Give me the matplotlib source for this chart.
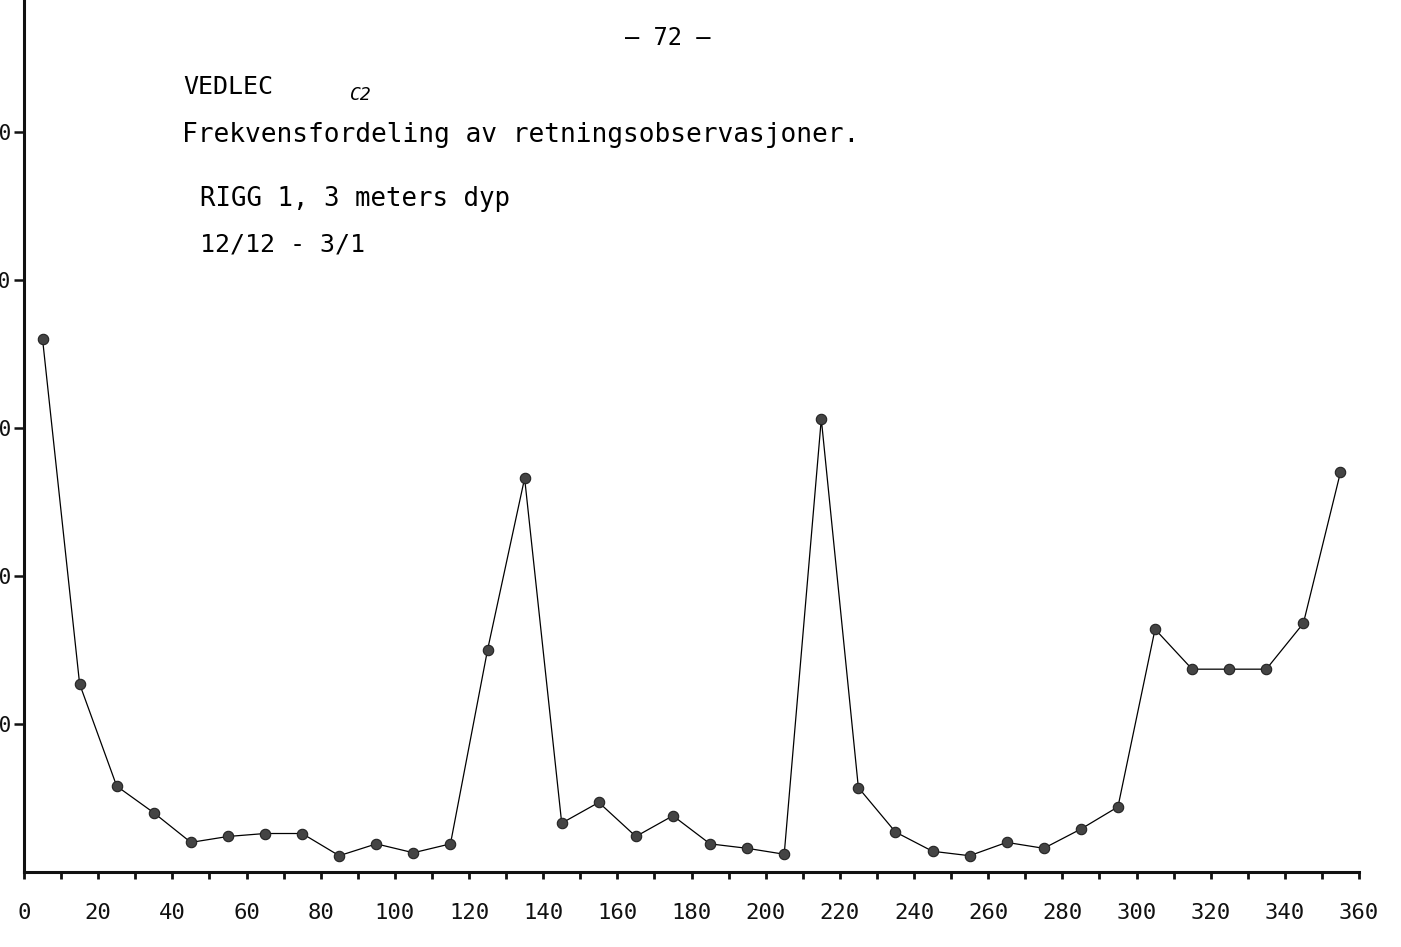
import matplotlib.pyplot as plt

plt.rcParams['font.family'] = ['DejaVu Sans Mono', 'DejaVu Sans']

# retning (grader), midtpunkt i hver 10-graders klasse
retning = list(range(5, 360, 10))
# frekvens lest av figuren
frekvens = [36.0, 12.7, 5.8, 4.0, 2.0, 2.4, 2.6, 2.6, 1.1, 1.9,
            1.3, 1.9, 15.0, 26.6, 3.3, 4.7, 2.4, 3.8, 1.9, 1.6,
            1.2, 30.6, 5.7, 2.7, 1.4, 1.1, 2.0, 1.6, 2.9, 4.4,
            16.4, 13.7, 13.7, 13.7, 16.8, 27.0]

xticks_major = list(range(0, 361, 20))
xticks_minor = list(range(10, 360, 20))
yticks = [10, 20, 30, 40, 50]

fig = plt.figure(figsize=(14.01, 9.47), dpi=100)
ax = fig.add_axes([24 / 1401, 75 / 947, 1335 / 1401, 872 / 947])

ax.plot(retning, frekvens, color='black', lw=0.9,
        marker='o', ms=7.5, mfc='#444444', mec='#222222', mew=0.8)

ax.set_xlim(0, 360)
ax.set_ylim(0, 58.9)
ax.set_xticks(xticks_major)
ax.set_xticks(xticks_minor, minor=True)
ax.set_yticks(yticks)
ax.set_yticklabels([str(v) for v in yticks])

for side in ['top', 'right']:
    ax.spines[side].set_visible(False)
for side in ['left', 'bottom']:
    ax.spines[side].set_linewidth(2.2)
    ax.spines[side].set_color('#111111')

ax.tick_params(axis='x', which='both', direction='out', length=5, width=2,
               colors='#111111', labelsize=16, pad=17)
ax.tick_params(axis='y', direction='out', length=7, width=1.8,
               colors='#111111', labelsize=15, pad=2)

fig.text(668 / 1401, 1 - 38 / 947, '– 72 –', ha='center', va='center', fontsize=17)
fig.text(183 / 1401, 1 - 87 / 947, 'VEDLEC', ha='left', va='center', fontsize=18)
fig.text(350 / 1401, 1 - 95 / 947, 'C2', ha='left', va='center', fontsize=13, style='italic')
fig.text(182 / 1401, 1 - 135 / 947, 'Frekvensfordeling av retningsobservasjoner.',
         ha='left', va='center', fontsize=18.9)
fig.text(200 / 1401, 1 - 199 / 947, 'RIGG 1, 3 meters dyp', ha='left', va='center', fontsize=18.5)
fig.text(200 / 1401, 1 - 245 / 947, '12/12 - 3/1', ha='left', va='center', fontsize=18)

fig.savefig('out.png', dpi=100)
